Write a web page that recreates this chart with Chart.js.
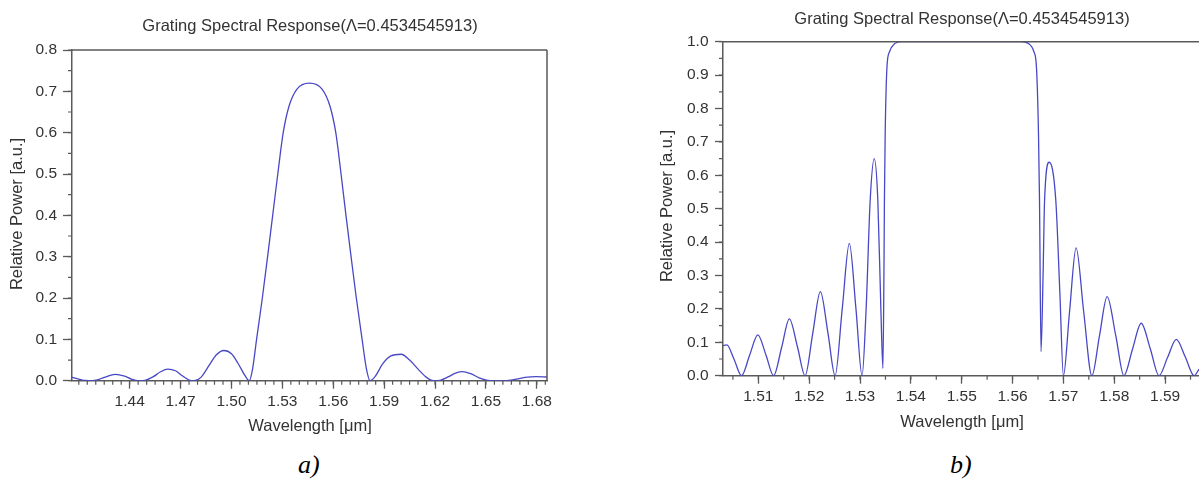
<!DOCTYPE html>
<html><head><meta charset="utf-8">
<script src="https://cdn.jsdelivr.net/npm/chart.js@4/dist/chart.umd.min.js"></script>
<style>
html,body{margin:0;padding:0;background:#fff;}
body{width:1199px;height:492px;overflow:hidden;position:relative;}
canvas{position:absolute;}
.cap{position:absolute;font-family:"Liberation Serif",serif;font-style:italic;font-size:26px;color:#000;line-height:1;}
</style></head>
<body>
<canvas id="ca" width="600" height="440" style="left:0;top:0"></canvas>
<canvas id="cb" width="600" height="440" style="left:620px;top:0"></canvas>
<div class="cap" style="left:298px;top:452px">a)</div>
<div class="cap" style="left:950px;top:452px">b)</div>
<script>
// ---- data ----
const wavelengthA = [1.406,1.410,1.414,1.418,1.421,1.425,1.4315,1.437,1.441,1.445,1.449,1.454,1.458,1.4625,1.467,1.471,1.4755,1.478,1.482,1.487,1.491,1.4955,1.500,1.504,1.508,
  1.5105,1.5125,1.5148,1.5182,1.5213,1.5243,1.5273,1.5305,1.534,1.5385,1.5459,1.5535,1.558,1.5615,1.5646,1.5675,1.5705,1.5736,1.5770,1.5795,1.5817,
  1.585,1.589,1.594,1.600,1.605,1.610,1.615,1.619,1.623,1.628,1.6325,1.636,1.641,1.646,1.651,1.655,1.662,1.667,1.673,1.6797,1.686];
const powerA = [0.008,0.004,0.0005,0,0.002,0.008,0.0155,0.011,0.004,0,0.001,0.010,0.021,0.028,0.024,0.012,0.001,0,0.008,0.038,0.062,0.073,0.065,0.041,0.012,
  0,0.03,0.10,0.20,0.30,0.40,0.50,0.60,0.665,0.705,0.72,0.705,0.665,0.60,0.50,0.40,0.30,0.20,0.10,0.03,0,
  0.012,0.040,0.060,0.064,0.050,0.028,0.008,0,0.001,0.010,0.019,0.022,0.017,0.007,0.001,0,0,0.003,0.008,0.010,0.009];

const wavelengthB = [1.5030,1.5038,1.5052,1.5067,1.5083,1.5099,1.5115,1.5130,1.5146,1.5161,1.5177,1.5192,1.5207,1.5222,1.5237,1.5251,1.5265,1.5279,1.5292,1.5304,
  1.5312,1.5320,1.5328,1.5335,1.5341,1.5345,1.5347,1.5348,1.53495,1.5353,1.5358,1.5369,1.5380,1.5460,1.5540,1.5616,1.5631,1.5642,1.5647,1.5651,1.5653,1.5656,
  1.5660,1.5663,1.5672,1.5685,1.5693,1.5700,1.5712,1.5725,1.5740,1.5756,1.5771,1.5786,1.5803,1.5819,1.5836,1.5853,1.5871,1.5888,1.5905,1.5922,1.5940,1.5957,1.5967];
const powerB = [0.090,0.092,0.05,0,0.062,0.122,0.062,0,0.086,0.170,0.086,0,0.127,0.252,0.127,0,0.20,0.396,0.20,0,
  0.20,0.526,0.65,0.526,0.2,0.022,0.30,0.526,0.725,0.924,0.97,0.995,1.0,1.0,1.0,1.0,0.995,0.97,0.924,0.725,0.526,0.072,
  0.30,0.526,0.639,0.526,0.25,0,0.19,0.383,0.19,0,0.12,0.237,0.12,0,0.08,0.157,0.08,0,0.055,0.109,0.055,0,0.02];

const xTicksA = [1.44,1.47,1.50,1.53,1.56,1.59,1.62,1.65,1.68];
const yTicksA = [0,0.1,0.2,0.3,0.4,0.5,0.6,0.7,0.8];
const xTicksB = [1.51,1.52,1.53,1.54,1.55,1.56,1.57,1.58,1.59];
const yTicksB = [0,0.1,0.2,0.3,0.4,0.5,0.6,0.7,0.8,0.9,1.0];

const titleText = 'Grating Spectral Response(\u039B=0.4534545913)';
const xTitleText = 'Wavelength [\u03BCm]';
const yTitleText = 'Relative Power [a.u.]';

// ---- style ----
const LINE = '#4848c6';
const AX = '#5a5a5a';
const TXT = '#333333';
const FONT = '"Liberation Sans", Arial, sans-serif';

function deco(cfg){
  return {
    id:'deco'+cfg.id,
    afterDraw(chart){
      const c = chart.ctx, a = chart.chartArea;
      const xs = chart.scales.x, ys = chart.scales.y;
      c.save();
      c.strokeStyle = AX; c.lineWidth = 1.5;
      c.beginPath();
      c.moveTo(a.left, a.top); c.lineTo(a.right, a.top);
      if (cfg.rightBorder){ c.moveTo(a.right, a.top); c.lineTo(a.right, a.bottom); }
      c.stroke();
      // minor ticks
      c.lineWidth = 1.2;
      c.beginPath();
      for (let v = cfg.xMinorStart; v <= xs.max + 1e-9; v += cfg.xMinorStep){
        const p = xs.getPixelForValue(v);
        c.moveTo(p, a.bottom); c.lineTo(p, a.bottom + 4);
      }
      for (let v = cfg.yMinorStep/2*0; v <= ys.max + 1e-9; v += cfg.yMinorStep){
        const p = ys.getPixelForValue(v);
        c.moveTo(a.left, p); c.lineTo(a.left - 4, p);
      }
      c.stroke();
      // texts
      c.fillStyle = TXT;
      c.textAlign = 'center';
      c.textBaseline = 'alphabetic';
      c.font = '16.5px ' + FONT;
      c.fillText(titleText, cfg.titleX, cfg.titleY);
      c.fillText(xTitleText, cfg.titleX, cfg.xTitleY);
      c.translate(cfg.yTitleX, cfg.yTitleY);
      c.rotate(-Math.PI/2);
      c.textBaseline = 'middle';
      c.fillText(yTitleText, 0, 0);
      c.restore();
    }
  };
}

function makeChart(cfg){
  const pts = cfg.xs.map((x,i)=>({x:x, y:cfg.ys[i]}));
  return new Chart(document.getElementById(cfg.id), {
    type:'line',
    data:{datasets:[{data:pts, borderColor:LINE, borderWidth:1.3, pointRadius:0, fill:false, cubicInterpolationMode:'monotone'}]},
    options:{
      responsive:false, animation:false, devicePixelRatio:1,
      layout:{padding:cfg.padding},
      plugins:{legend:{display:false}, tooltip:{enabled:false}, title:{display:false}},
      scales:{
        x:{type:'linear', min:cfg.xmin, max:cfg.xmax,
          afterBuildTicks:s=>{ s.ticks = cfg.xticks.map(v=>({value:v})); },
          afterFit:s=>{ s.height = cfg.xh; },
          grid:{drawOnChartArea:false, drawTicks:true, tickLength:8, tickColor:AX, tickWidth:1.3},
          border:{display:true, color:AX, width:1.5},
          ticks:{padding:4, color:TXT, font:{family:FONT, size:15.5}, maxRotation:0, autoSkip:false,
                 callback:v=>Number(v).toFixed(2)}},
        y:{type:'linear', min:cfg.ymin, max:cfg.ymax,
          afterBuildTicks:s=>{ s.ticks = cfg.yticks.map(v=>({value:v})); },
          afterFit:s=>{ s.width = cfg.yw; },
          grid:{drawOnChartArea:false, drawTicks:true, tickLength:cfg.ytl, tickColor:AX, tickWidth:1.3},
          border:{display:true, color:AX, width:1.5},
          ticks:{padding:cfg.ypad, color:TXT, font:{family:FONT, size:15.5}, autoSkip:false,
                 callback:v=>Number(v).toFixed(1)}}
      }
    },
    plugins:[deco(cfg)]
  });
}

makeChart({id:'ca', xs:wavelengthA, ys:powerA, xmin:1.406, xmax:1.686, ymin:0, ymax:0.8,
  xticks:xTicksA, yticks:yTicksA, padding:{top:50, right:53, left:0, bottom:0},
  xh:59.3, yw:72, ytl:9, ypad:6, rightBorder:true,
  xMinorStart:1.41, xMinorStep:0.005, yMinorStep:0.05,
  titleX:310, titleY:31, xTitleY:431, yTitleX:17, yTitleY:214});

makeChart({id:'cb', xs:wavelengthB, ys:powerB, xmin:1.50305, xmax:1.6008, ymin:0, ymax:1.0,
  xticks:xTicksB, yticks:yTicksB, padding:{top:41.7, right:0, left:0, bottom:0},
  xh:64.3, yw:103, ytl:8, ypad:6.5, rightBorder:false,
  xMinorStart:1.505, xMinorStep:0.005, yMinorStep:0.05,
  titleX:342, titleY:24, xTitleY:427, yTitleX:47, yTitleY:206});
</script>
</body></html>
